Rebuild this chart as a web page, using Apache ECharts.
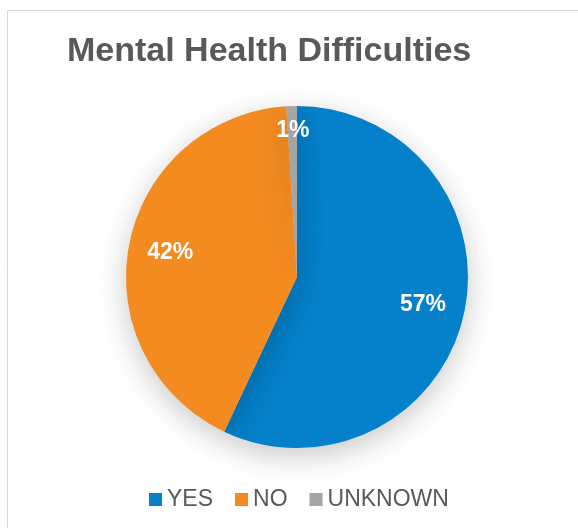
<!DOCTYPE html>
<html>
<head>
<meta charset="utf-8">
<script src="https://cdn.jsdelivr.net/npm/echarts@6/dist/echarts.min.js"></script>
<style>
  html, body { margin: 0; padding: 0; background: #fff; }
  #chart { width: 578px; height: 528px; }
</style>
</head>
<body>
<div id="chart"></div>
<script>
// Survey answers and their shares (percent)
const categories = ['YES', 'NO', 'UNKNOWN'];
const values = [57, 42, 1];
const colors = ['#0580CA', '#F38B21', '#A5A5A5'];

const chart = echarts.init(document.getElementById('chart'), null, { renderer: 'canvas' });

const sliceData = categories.map((name, i) => ({
  name,
  value: values[i],
  itemStyle: { color: colors[i] }
}));

// Label ring: same slices, transparent, so the inside labels sit further out
const labelData = categories.map((name, i) => ({
  name,
  value: values[i],
  label: i === 2 ? { offset: [0, -17] } : {}
}));

const fontFamily = 'Liberation Sans, Arial, sans-serif';

chart.setOption({
  animation: false,
  backgroundColor: '#ffffff',
  title: {
    text: 'Mental Health Difficulties',
    left: 67,
    top: 35,
    padding: 0,
    textStyle: {
      fontFamily,
      fontSize: 34,
      fontWeight: 'bold',
      color: '#595959'
    }
  },
  legend: {
    data: categories,
    top: 488,
    left: 149,
    padding: 0,
    icon: 'rect',
    itemWidth: 13,
    itemHeight: 13,
    itemGap: 22,
    textStyle: {
      fontFamily,
      fontSize: 23,
      color: '#595959',
      padding: [0, 0, 0, 0]
    }
  },
  graphic: [{
    type: 'rect',
    shape: { x: 7.5, y: 10.5, width: 700, height: 700 },
    style: { fill: 'none', stroke: '#D9D9D9', lineWidth: 1 },
    silent: true,
    z: -1
  }],
  series: [
    {
      name: 'slices',
      type: 'pie',
      center: [297, 277],
      radius: [0, 171],
      startAngle: 90,
      clockwise: true,
      label: { show: false },
      labelLine: { show: false },
      itemStyle: {
        shadowBlur: 30,
        shadowOffsetY: 8,
        shadowColor: 'rgba(0,0,0,0.22)'
      },
      emphasis: { disabled: true },
      data: sliceData
    },
    {
      name: 'labels',
      type: 'pie',
      center: [297, 277],
      radius: [81, 171],
      startAngle: 90,
      clockwise: true,
      silent: true,
      itemStyle: { color: 'rgba(0,0,0,0)' },
      label: {
        show: true,
        position: 'inside',
        formatter: '{c}%',
        fontFamily,
        fontSize: 23,
        fontWeight: 'bold',
        color: '#ffffff'
      },
      labelLine: { show: false },
      emphasis: { disabled: true },
      legendHoverLink: false,
      data: labelData
    }
  ]
});
</script>
</body>
</html>
